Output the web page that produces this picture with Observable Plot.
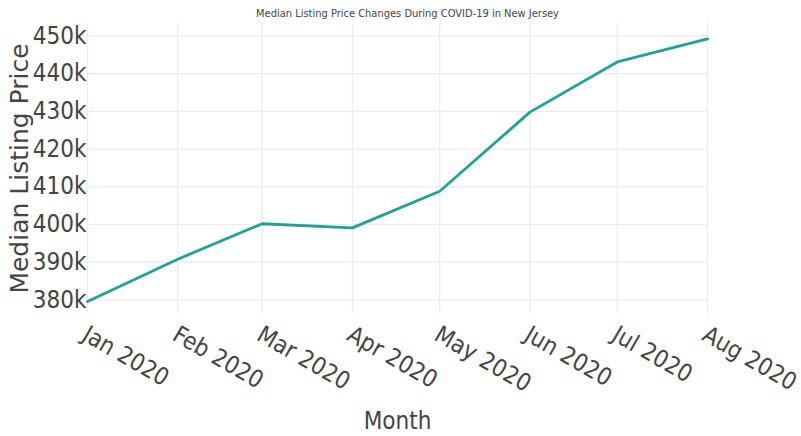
<!DOCTYPE html>
<html>
<head>
<meta charset="utf-8">
<script src="https://cdn.jsdelivr.net/npm/d3@7"></script>
<script src="https://cdn.jsdelivr.net/npm/@observablehq/plot@0.6"></script>
<style>
  html, body { margin: 0; padding: 0; background: #fff; }
  #chart { width: 801px; height: 436px; }
</style>
</head>
<body>
<div id="chart"></div>
<script>
// Monthly median listing price, New Jersey, 2020
const months = ["2020-01-01", "2020-02-01", "2020-03-01", "2020-04-01",
                "2020-05-01", "2020-06-01", "2020-07-01", "2020-08-01"];
const prices = [379600, 390800, 400200, 399100, 408800, 429800, 443100, 449200];
const yTicks = [380000, 390000, 400000, 410000, 420000, 430000, 440000, 450000];

const title = "Median Listing Price Changes During COVID-19 in New Jersey";
const xTitle = "Month";
const yTitle = "Median Listing Price";

const dates = months.map(m => new Date(m));
const data = dates.map((d, i) => ({date: d, price: prices[i]}));

const ink = "#444";
const gridColor = "#ececec";

const chart = Plot.plot({
  width: 801,
  height: 436,
  marginTop: 23,
  marginBottom: 123,
  marginLeft: 87,
  marginRight: 94,
  style: {fontFamily: "'DejaVu Sans Condensed', 'DejaVu Sans', sans-serif", background: "#fff", color: ink},
  x: {type: "utc", domain: [dates[0], dates[dates.length - 1]]},
  y: {domain: [376400, 453300]},
  marks: [
    Plot.gridX(dates, {stroke: gridColor, strokeOpacity: 1, strokeWidth: 1.2}),
    Plot.gridY(yTicks, {stroke: gridColor, strokeOpacity: 1, strokeWidth: 1.2}),
    Plot.axisY(yTicks, {
      tickSize: 0, tickPadding: 1, fontSize: 24, fill: ink,
      tickFormat: d => `${d / 1000}k`, label: null
    }),
    Plot.axisX(dates, {
      tickSize: 0, tickPadding: 19, tickRotate: 30, dx: -3, fontSize: 24, fill: ink,
      tickFormat: d3.utcFormat("%b %Y"), label: null
    }),
    Plot.line(data, {x: "date", y: "price", stroke: "#21a298", strokeWidth: 2.8}),
    Plot.text([yTitle], {
      frameAnchor: "left", dx: -68, rotate: -90, fontSize: 25,
      fontFamily: "'DejaVu Sans', sans-serif", fill: ink, textAnchor: "middle", lineAnchor: "middle"
    }),
    Plot.text([xTitle], {
      frameAnchor: "bottom", dy: 108, fontSize: 24, fill: ink, lineAnchor: "middle"
    }),
    Plot.text([title], {
      frameAnchor: "top", dx: 10, dy: -10.5, fontSize: 11, fill: ink, lineAnchor: "middle"
    })
  ]
});

document.getElementById("chart").append(chart);
</script>
</body>
</html>
